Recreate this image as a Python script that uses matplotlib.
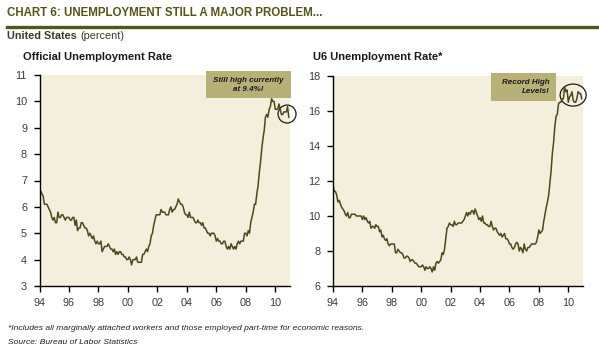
import matplotlib
matplotlib.use("Agg")
import matplotlib.pyplot as plt
import numpy as np
from matplotlib.patches import Rectangle, Ellipse
from matplotlib.lines import Line2D

# monthly data, Jan 1994 - Dec 2010
start_year = 1994
u3_rate = [
    6.6, 6.6, 6.5, 6.4, 6.1, 6.1, 6.1, 6.0, 5.9, 5.8, 5.6, 5.5,
    5.6, 5.4, 5.4, 5.8, 5.6, 5.6, 5.7, 5.7, 5.6, 5.5, 5.6, 5.6,
    5.6, 5.5, 5.5, 5.6, 5.6, 5.3, 5.5, 5.1, 5.2, 5.2, 5.4, 5.4,
    5.3, 5.2, 5.2, 5.1, 4.9, 5.0, 4.9, 4.8, 4.9, 4.7, 4.6, 4.7,
    4.6, 4.6, 4.7, 4.3, 4.4, 4.5, 4.5, 4.5, 4.6, 4.5, 4.4, 4.4,
    4.3, 4.4, 4.2, 4.3, 4.2, 4.3, 4.3, 4.2, 4.2, 4.1, 4.1, 4.0,
    4.0, 4.1, 4.0, 3.8, 4.0, 4.0, 4.0, 4.1, 3.9, 3.9, 3.9, 3.9,
    4.2, 4.2, 4.3, 4.4, 4.3, 4.5, 4.6, 4.9, 5.0, 5.3, 5.5, 5.7,
    5.7, 5.7, 5.7, 5.9, 5.8, 5.8, 5.8, 5.7, 5.7, 5.7, 5.9, 6.0,
    5.8, 5.9, 5.9, 6.0, 6.1, 6.3, 6.2, 6.1, 6.1, 6.0, 5.8, 5.7,
    5.7, 5.6, 5.8, 5.6, 5.6, 5.6, 5.5, 5.4, 5.4, 5.5, 5.4, 5.4,
    5.3, 5.4, 5.2, 5.2, 5.1, 5.0, 5.0, 4.9, 5.0, 5.0, 5.0, 4.9,
    4.7, 4.8, 4.7, 4.7, 4.6, 4.6, 4.7, 4.7, 4.5, 4.4, 4.5, 4.4,
    4.6, 4.5, 4.4, 4.5, 4.4, 4.6, 4.7, 4.6, 4.7, 4.7, 4.7, 5.0,
    5.0, 4.9, 5.1, 5.0, 5.4, 5.6, 5.8, 6.1, 6.1, 6.5, 6.8, 7.3,
    7.7, 8.2, 8.6, 8.9, 9.4, 9.5, 9.4, 9.7, 9.8, 10.1, 10.0, 10.0,
    9.7, 9.7, 9.7, 9.9, 9.7, 9.5, 9.5, 9.6, 9.6, 9.6, 9.8, 9.4,
]
u6_rate = [
    11.8, 11.4, 11.4, 11.2, 10.8, 10.9, 10.7, 10.5, 10.4, 10.3, 10.1, 10.0,
    10.2, 9.9, 9.9, 10.1, 10.1, 10.1, 10.1, 10.0, 10.0, 10.0, 10.0, 10.0,
    9.8, 10.0, 9.8, 9.9, 9.7, 9.6, 9.7, 9.3, 9.4, 9.4, 9.3, 9.5,
    9.4, 9.4, 9.1, 9.2, 8.8, 8.9, 8.7, 8.6, 8.7, 8.4, 8.3, 8.4,
    8.4, 8.4, 8.4, 7.9, 7.9, 8.1, 8.0, 7.9, 7.9, 7.8, 7.6, 7.6,
    7.7, 7.7, 7.6, 7.4, 7.5, 7.5, 7.4, 7.3, 7.3, 7.2, 7.1, 7.1,
    7.1, 7.2, 7.1, 6.9, 7.1, 7.0, 7.0, 7.1, 7.0, 6.8, 7.1, 6.9,
    7.3, 7.4, 7.3, 7.4, 7.5, 7.9, 7.8, 8.1, 8.7, 9.3, 9.4, 9.6,
    9.5, 9.5, 9.4, 9.7, 9.5, 9.5, 9.6, 9.6, 9.6, 9.6, 9.7, 9.8,
    10.0, 10.2, 10.0, 10.2, 10.1, 10.3, 10.3, 10.1, 10.4, 10.2, 10.0, 9.8,
    9.9, 9.7, 10.0, 9.6, 9.6, 9.5, 9.5, 9.4, 9.4, 9.7, 9.4, 9.2,
    9.3, 9.3, 9.1, 9.0, 8.9, 9.0, 8.8, 8.9, 9.0, 8.7, 8.7, 8.6,
    8.4, 8.4, 8.2, 8.1, 8.2, 8.4, 8.5, 8.4, 8.0, 8.2, 8.1, 7.9,
    8.4, 8.1, 8.0, 8.2, 8.2, 8.3, 8.4, 8.4, 8.4, 8.4, 8.5, 8.8,
    9.2, 9.0, 9.1, 9.2, 9.7, 10.1, 10.5, 10.8, 11.2, 11.9, 12.6, 13.6,
    14.2, 15.1, 15.7, 15.8, 16.4, 16.5, 16.5, 16.7, 16.7, 17.4, 17.1, 17.2,
    16.5, 16.8, 16.9, 17.1, 16.6, 16.5, 16.5, 16.7, 17.1, 17.0, 17.0, 16.7,
]
tick_years = [1994, 1996, 1998, 2000, 2002, 2004, 2006, 2008, 2010]
tick_labels = ["94", "96", "98", "00", "02", "04", "06", "08", "10"]

dates = start_year + np.arange(len(u3_rate)) / 12.0

font = "Liberation Sans"
olive = "#55551a"
line_col = "#4a4a1c"
bg = "#f4efdc"
box_col = "#b7b077"
W, H = 599, 358

fig = plt.figure(figsize=(W / 100, H / 100), dpi=100)
fig.patch.set_facecolor("white")


def fx(px):
    return px / W


def fy(py):
    return 1 - py / H


# header
fig.text(fx(7), fy(13), "CHART 6: UNEMPLOYMENT STILL A MAJOR PROBLEM...",
         family=font, fontweight="bold", fontsize=8.3, color=olive, va="center")
fig.add_artist(Line2D([fx(7), fx(597)], [fy(27), fy(27)], color=olive, lw=2.4))
fig.text(fx(7), fy(36), "United States", family=font, fontweight="bold",
         fontsize=7.8, color="#3a3a2a", va="center")
fig.text(fx(80), fy(36), "(percent)", family=font,
         fontsize=7.8, color="#3a3a2a", va="center")


def setup(ax, ylim, yticks):
    ax.set_facecolor(bg)
    ax.set_xlim(1994, 2011)
    ax.set_ylim(*ylim)
    ax.set_yticks(yticks)
    ax.set_xticks(tick_years)
    ax.set_xticklabels(tick_labels)
    for s in ["top", "right"]:
        ax.spines[s].set_visible(False)
    for s in ["left", "bottom"]:
        ax.spines[s].set_linewidth(1.0)
    ax.tick_params(direction="out", length=4, width=1.0, labelsize=7.8,
                   labelcolor="#3c3c3c", pad=5)
    for lab in ax.get_xticklabels() + ax.get_yticklabels():
        lab.set_family(font)


ax1 = fig.add_axes([fx(39.5), fy(286), fx(290) - fx(39.5), fy(75) - fy(286)])
setup(ax1, (3, 11), range(3, 12))
ax1.plot(dates, u3_rate, color=line_col, lw=1.1)

ax2 = fig.add_axes([fx(333), fy(286), fx(583) - fx(333), fy(76) - fy(286)])
setup(ax2, (6, 18), range(6, 19, 2))
ax2.plot(dates, u6_rate, color=line_col, lw=1.1)

fig.text(fx(23), fy(57), "Official Unemployment Rate", family=font,
         fontweight="bold", fontsize=8, color="#1a1a1a", va="center")
fig.text(fx(313), fy(57), "U6 Unemployment Rate*", family=font,
         fontweight="bold", fontsize=8, color="#1a1a1a", va="center")

# callouts
fig.add_artist(Rectangle((fx(206), fy(98)), fx(291) - fx(206), fy(71) - fy(98),
                         transform=fig.transFigure, color=box_col, lw=0))
fig.text(fx(248.5), fy(85), "Still high currently\nat 9.4%!", family=font,
         fontweight="bold", style="italic", fontsize=5.8, color="#1a1a1a",
         ha="center", va="center", linespacing=1.35)
ax1.add_patch(Ellipse((2010.8, 9.52), 1.22, 0.68, fill=False, ec="#1a1a1a",
                      lw=0.9, clip_on=False))

fig.add_artist(Rectangle((fx(491), fy(101)), fx(556) - fx(491), fy(73) - fy(101),
                         transform=fig.transFigure, color=box_col, lw=0))
fig.text(fx(550), fy(87), "Record High\nLevels!", family=font,
         fontweight="bold", style="italic", fontsize=5.8, color="#1a1a1a",
         ha="right", va="center", linespacing=1.35)
ax2.add_patch(Ellipse((2010.33, 16.91), 1.77, 1.26, fill=False, ec="#1a1a1a",
                      lw=0.9, clip_on=False))

# footnotes
fig.text(fx(8), fy(328), "*Includes all marginally attached workers and those employed "
         "part-time for economic reasons.", family=font, style="italic",
         fontsize=6.1, color="#222222", va="center")
fig.text(fx(8), fy(342), "Source: Bureau of Labor Statistics", family=font,
         style="italic", fontsize=6.1, color="#222222", va="center")

fig.savefig("out.png", dpi=100, facecolor="white")
